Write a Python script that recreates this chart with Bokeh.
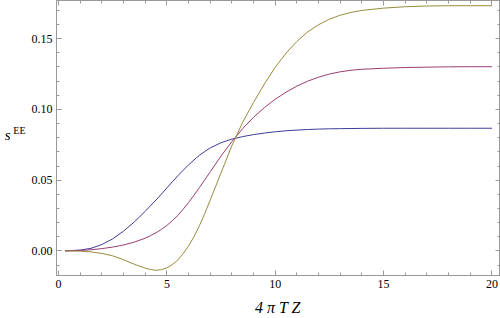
from bokeh.plotting import figure
from bokeh.models import (Range1d, FixedTicker, LinearAxis, NumeralTickFormatter,
                          CustomJSTickFormatter)
from bokeh.embed import file_html
from bokeh.resources import INLINE

# ---- data ----
x_vals = [0.3, 1.0, 1.5, 2.0, 2.5, 3.0, 3.5, 4.0, 4.25, 4.5, 4.75, 5.0, 5.25,
          5.5, 5.75, 6.0, 6.25, 6.5, 6.75, 7.0, 7.5, 8.0, 8.5, 9.0, 9.5, 10.0,
          10.5, 11.0, 11.5, 12.0, 12.5, 13.0, 13.5, 14.0, 15.0, 16.0, 17.0,
          18.0, 19.0, 20.0]
blue_vals = [0.0, 0.0006, 0.0018, 0.0045, 0.0085, 0.0140, 0.0205, 0.0280,
             0.0320, 0.0360, 0.0402, 0.0445, 0.0488, 0.0530, 0.0570, 0.0608,
             0.0643, 0.0675, 0.0703, 0.0728, 0.0765, 0.0790, 0.0808, 0.0822,
             0.0833, 0.0842, 0.0849, 0.0854, 0.0858, 0.0861, 0.0863, 0.0864,
             0.0865, 0.0866, 0.0867, 0.0867, 0.0867, 0.0867, 0.0867, 0.0867]
purple_vals = [0.0, 0.0003, 0.0008, 0.0016, 0.0027, 0.0042, 0.0062, 0.0090,
               0.0108, 0.0128, 0.0152, 0.0180, 0.0213, 0.0250, 0.0294, 0.0342,
               0.0393, 0.0447, 0.0503, 0.0559, 0.0671, 0.0773, 0.0865, 0.0945,
               0.1013, 0.1072, 0.1122, 0.1165, 0.1200, 0.1228, 0.1250, 0.1266,
               0.1277, 0.1284, 0.1291, 0.1296, 0.1299, 0.1301, 0.1302, 0.1302]
gold_vals = [0.0, -0.0002, -0.0007, -0.0018, -0.0035, -0.0062, -0.0095, -0.0122,
             -0.0132, -0.0137, -0.0133, -0.0120, -0.0097, -0.0065, -0.0020,
             0.0035, 0.0100, 0.0178, 0.0265, 0.0360, 0.0552, 0.0745, 0.0910,
             0.1050, 0.1180, 0.1298, 0.1398, 0.1481, 0.1549, 0.1599, 0.1638,
             0.1666, 0.1686, 0.1700, 0.1716, 0.1726, 0.1731, 0.1733, 0.1733,
             0.1733]

x_major = [0, 5, 10, 15, 20]
x_minor = list(range(0, 21))
y_major = [0.0, 0.05, 0.10, 0.15]
y_minor = [round(-0.01 + 0.01 * i, 2) for i in range(19)]

x_title = "4 π T Z"
y_title_main = "s"
y_title_sup = "EE"

series_colors = ["#3d3d99", "#993d71", "#998b3d"]
frame_color = "#999999"
serif = "Liberation Serif"

p = figure(width=500, height=318, output_backend="svg", toolbar_location=None,
           x_range=Range1d(-0.094, 20.394), y_range=Range1d(-0.0174, 0.177),
           min_border_left=56, min_border_right=0, min_border_top=0,
           min_border_bottom=43, x_axis_type=None, y_axis_type=None)
p.grid.visible = False
p.outline_line_color = frame_color
p.outline_line_width = 1
p.background_fill_color = "white"
p.border_fill_color = "white"


def make_axis(ticker, labels=True, fmt=None):
    ax = LinearAxis(ticker=ticker)
    ax.axis_line_color = frame_color
    ax.major_tick_line_color = frame_color
    ax.minor_tick_line_color = frame_color
    ax.major_tick_in = 5
    ax.major_tick_out = 0
    ax.minor_tick_in = 3
    ax.minor_tick_out = 0
    if labels:
        ax.major_label_text_font = serif
        ax.major_label_text_font_size = "12px"
        ax.major_label_text_color = "black"
        ax.major_label_standoff = 4
        if fmt is not None:
            ax.formatter = fmt
    else:
        ax.formatter = CustomJSTickFormatter(code="return ''")
        ax.major_label_standoff = 0
    return ax


def title_axis(pos, text, size, style, standoff):
    """An axis with no lines that only shows one text at a given position."""
    ax = LinearAxis(ticker=FixedTicker(ticks=[pos], minor_ticks=[]),
                    formatter=CustomJSTickFormatter(args=dict(t=text), code="return t"))
    ax.axis_line_color = None
    ax.major_tick_line_color = None
    ax.minor_tick_line_color = None
    ax.major_tick_in = 0
    ax.major_tick_out = 0
    ax.minor_tick_in = 0
    ax.minor_tick_out = 0
    ax.major_label_standoff = standoff
    ax.major_label_text_font = serif
    ax.major_label_text_font_style = style
    ax.major_label_text_font_size = size
    ax.major_label_text_color = "black"
    return ax


xt = FixedTicker(ticks=x_major, minor_ticks=x_minor)
yt = FixedTicker(ticks=y_major, minor_ticks=y_minor)

p.add_layout(make_axis(xt), "below")
xtitle = title_axis(10.12, x_title, "16px", "italic", 8)
xtitle.major_label_text_line_height = 0.5
p.add_layout(xtitle, "below")

p.add_layout(make_axis(yt, fmt=NumeralTickFormatter(format="0.00")), "left")
p.add_layout(title_axis(0.0852, y_title_sup, "10px", "normal", 3), "left")
p.add_layout(title_axis(0.0822, y_title_main, "15px", "italic", 0), "left")

p.add_layout(make_axis(FixedTicker(ticks=x_major, minor_ticks=x_minor), labels=False), "above")
p.add_layout(make_axis(FixedTicker(ticks=y_major, minor_ticks=y_minor), labels=False), "right")

for vals, c in zip([blue_vals, purple_vals, gold_vals], series_colors):
    p.line(x_vals, vals, line_color=c, line_width=1)

open("out.html", "w").write(file_html(p, INLINE))
